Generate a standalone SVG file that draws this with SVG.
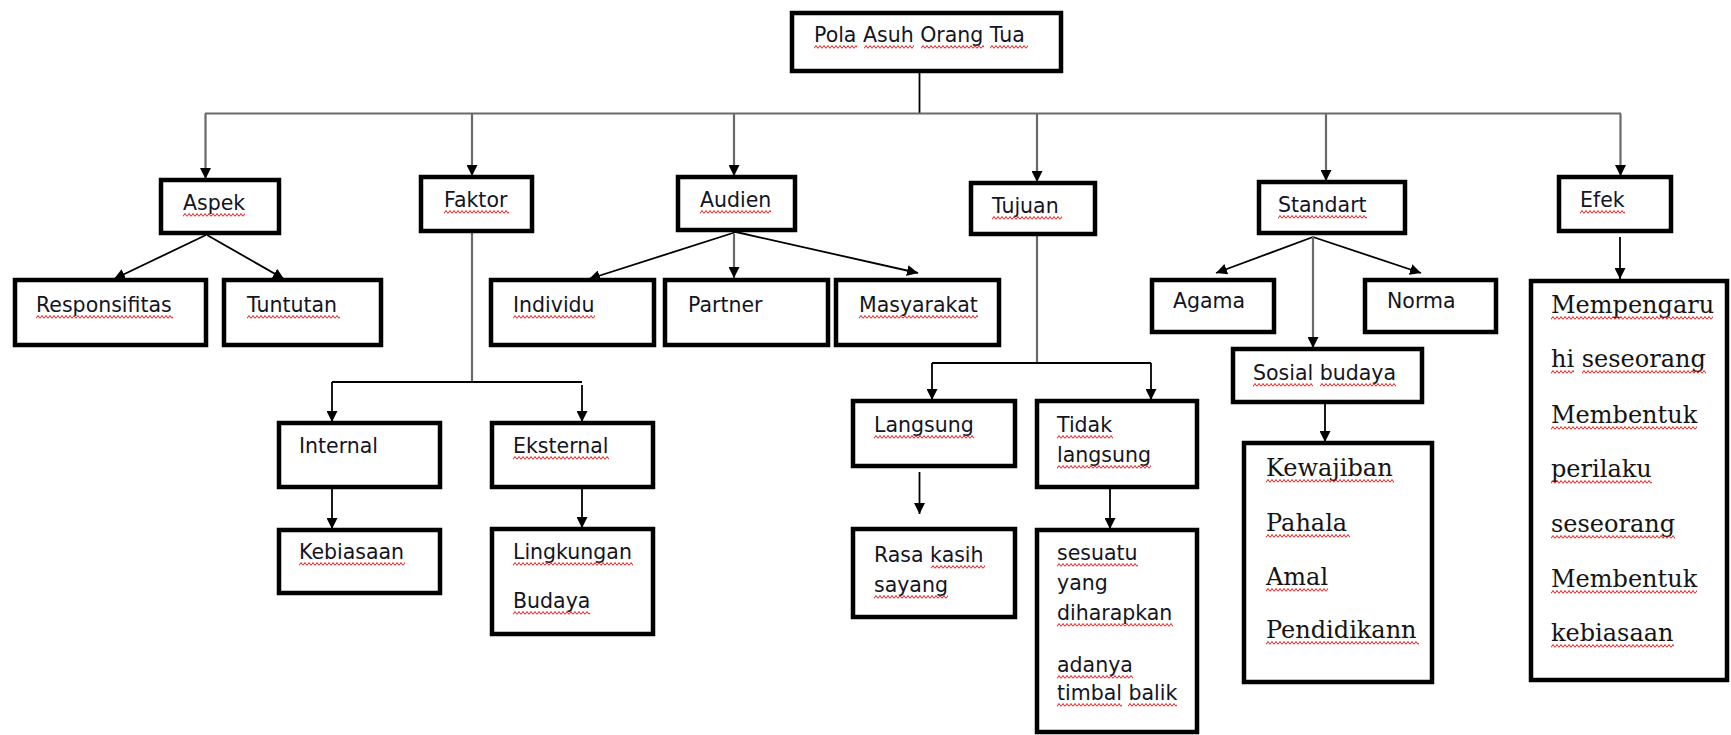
<svg xmlns="http://www.w3.org/2000/svg" width="1731" height="735" viewBox="0 0 1731 735">
<style>
.box{fill:#fff;stroke:#000;stroke-width:4.5}
.t{font-family:"DejaVu Sans",sans-serif;font-size:20.5px;fill:#141422}
.s{font-family:"DejaVu Serif",serif;font-size:24px;fill:#141414}
.c{fill:none;stroke:#000;stroke-width:1.8}
.g{fill:none;stroke:#6a6a6a;stroke-width:2.2}
.a{marker-end:url(#arr)}
.sq{fill:url(#zig)}
</style>
<defs>
<marker id="arr" markerUnits="userSpaceOnUse" markerWidth="12" markerHeight="11" refX="11" refY="5.5" orient="auto">
<path d="M0,0 L11,5.5 L0,11 z" fill="#000"/>
</marker>
<pattern id="zig" patternUnits="userSpaceOnUse" width="4" height="4">
<path d="M0,3.5 L2,0.5 L4,3.5" fill="none" stroke="#e21b1b" stroke-width="1"/>
</pattern>
</defs>
<rect width="1731" height="735" fill="#fff"/>

<g id="connectors">
<line class="c" x1="919.5" y1="71" x2="919.5" y2="114"/>
<line class="g" x1="205" y1="113.5" x2="1621" y2="113.5"/>
<path class="g a" d="M205.5,113.5 V179"/>
<path class="g a" d="M472,113.5 V176"/>
<path class="g a" d="M734,113.5 V176"/>
<path class="g a" d="M1037,113.5 V182"/>
<path class="g a" d="M1326,113.5 V181"/>
<path class="g a" d="M1620.5,113.5 V176"/>
<path class="c a" d="M206,235 L114,279"/>
<path class="c a" d="M207,235 L284,279"/>
<path class="g" d="M472,233 V382"/>
<path class="c" d="M332,382 H582"/>
<path class="c a" d="M332,382 V422"/>
<path class="c a" d="M582,385 V422"/>
<path class="c a" d="M332,489 V529"/>
<path class="c a" d="M582,489 V528"/>
<path class="c a" d="M736,232 L589,279"/>
<path class="g a" d="M734,234 V278"/>
<path class="c a" d="M736,232 L918,273"/>
<path class="g" d="M1037,236 V363"/>
<path class="c" d="M932,363 H1151"/>
<path class="c a" d="M932,363 V400"/>
<path class="c a" d="M1151,363 V400"/>
<path class="c a" d="M919.5,472 V514"/>
<path class="c a" d="M1110,489 V529"/>
<path class="c a" d="M1313,237 L1216,273"/>
<path class="c a" d="M1313,237 L1421,273"/>
<path class="g a" d="M1313,237 V348"/>
<path class="c a" d="M1325,404 V442"/>
<path class="c a" d="M1620,237 V279"/>
</g>

<g id="root">
<rect class="box" x="792" y="13" width="269" height="58"/>
<text class="t" x="814" y="42">Pola Asuh Orang Tua</text>
<rect class="sq" transform="translate(814,45)" width="43" height="4"/>
<rect class="sq" transform="translate(864,45)" width="50" height="4"/>
<rect class="sq" transform="translate(921,45)" width="63" height="4"/>
<rect class="sq" transform="translate(990,45)" width="38" height="4"/>
</g>

<g id="aspek">
<rect class="box" x="161" y="180" width="118" height="53"/>
<text class="t" x="183" y="210">Aspek</text>
<rect class="sq" transform="translate(183,213)" width="62" height="4"/>
</g>
<g id="faktor">
<rect class="box" x="421" y="177" width="111" height="54"/>
<text class="t" x="444" y="207">Faktor</text>
<rect class="sq" transform="translate(444,210)" width="65" height="4"/>
</g>
<g id="audien">
<rect class="box" x="678" y="177" width="117" height="53"/>
<text class="t" x="700" y="207">Audien</text>
<rect class="sq" transform="translate(700,210)" width="71" height="4"/>
</g>
<g id="tujuan">
<rect class="box" x="971" y="183" width="124" height="51"/>
<text class="t" x="992" y="213">Tujuan</text>
<rect class="sq" transform="translate(992,216)" width="70" height="4"/>
</g>
<g id="standart">
<rect class="box" x="1259" y="182" width="146" height="51"/>
<text class="t" x="1278" y="212">Standart</text>
<rect class="sq" transform="translate(1278,215)" width="89" height="4"/>
</g>
<g id="efek">
<rect class="box" x="1559" y="177" width="112" height="54"/>
<text class="t" x="1580" y="207">Efek</text>
<rect class="sq" transform="translate(1580,210)" width="45" height="4"/>
</g>

<g id="responsifitas">
<rect class="box" x="15" y="280" width="191" height="65"/>
<text class="t" x="36" y="312">Responsifitas</text>
<rect class="sq" transform="translate(36,315)" width="137" height="4"/>
</g>
<g id="tuntutan">
<rect class="box" x="224" y="280" width="157" height="65"/>
<text class="t" x="247" y="312">Tuntutan</text>
<rect class="sq" transform="translate(247,315)" width="93" height="4"/>
</g>
<g id="individu">
<rect class="box" x="491" y="280" width="163" height="65"/>
<text class="t" x="513" y="312">Individu</text>
<rect class="sq" transform="translate(513,315)" width="82" height="4"/>
</g>
<g id="partner">
<rect class="box" x="665" y="280" width="163" height="65"/>
<text class="t" x="688" y="312">Partner</text>
</g>
<g id="masyarakat">
<rect class="box" x="836" y="280" width="163" height="65"/>
<text class="t" x="859" y="312">Masyarakat</text>
<rect class="sq" transform="translate(859,315)" width="119" height="4"/>
</g>
<g id="agama">
<rect class="box" x="1152" y="280" width="122" height="52"/>
<text class="t" x="1173" y="308">Agama</text>
</g>
<g id="norma">
<rect class="box" x="1365" y="280" width="131" height="52"/>
<text class="t" x="1387" y="308">Norma</text>
</g>
<g id="sosial-budaya">
<rect class="box" x="1233" y="349" width="189" height="53"/>
<text class="t" x="1253" y="380">Sosial budaya</text>
<rect class="sq" transform="translate(1253,383)" width="60" height="4"/>
<rect class="sq" transform="translate(1320,383)" width="76" height="4"/>
</g>

<g id="internal">
<rect class="box" x="279" y="423" width="161" height="64"/>
<text class="t" x="299" y="453">Internal</text>
</g>
<g id="eksternal">
<rect class="box" x="492" y="423" width="161" height="64"/>
<text class="t" x="513" y="453">Eksternal</text>
<rect class="sq" transform="translate(513,456)" width="96" height="4"/>
</g>
<g id="kebiasaan">
<rect class="box" x="279" y="530" width="161" height="63"/>
<text class="t" x="299" y="559">Kebiasaan</text>
<rect class="sq" transform="translate(299,562)" width="106" height="4"/>
</g>
<g id="lingkungan">
<rect class="box" x="492" y="529" width="161" height="105"/>
<text class="t" x="513" y="559">Lingkungan</text>
<rect class="sq" transform="translate(513,562)" width="120" height="4"/>
<text class="t" x="513" y="608">Budaya</text>
<rect class="sq" transform="translate(513,611)" width="77" height="4"/>
</g>

<g id="langsung">
<rect class="box" x="853" y="401" width="162" height="65"/>
<text class="t" x="874" y="432">Langsung</text>
<rect class="sq" transform="translate(874,435)" width="100" height="4"/>
</g>
<g id="tidak-langsung">
<rect class="box" x="1037" y="401" width="160" height="86"/>
<text class="t" x="1057" y="432">Tidak</text>
<rect class="sq" transform="translate(1057,435)" width="56" height="4"/>
<text class="t" x="1057" y="462">langsung</text>
<rect class="sq" transform="translate(1057,465)" width="94" height="4"/>
</g>
<g id="rasa-kasih-sayang">
<rect class="box" x="853" y="529" width="162" height="88"/>
<text class="t" x="874" y="562">Rasa kasih</text>
<rect class="sq" transform="translate(931,565)" width="54" height="4"/>
<text class="t" x="874" y="592">sayang</text>
<rect class="sq" transform="translate(874,595)" width="74" height="4"/>
</g>
<g id="sesuatu">
<rect class="box" x="1037" y="530" width="160" height="202"/>
<text class="t" x="1057" y="560">sesuatu</text>
<rect class="sq" transform="translate(1057,563)" width="81" height="4"/>
<text class="t" x="1057" y="590">yang</text>
<text class="t" x="1057" y="620">diharapkan</text>
<rect class="sq" transform="translate(1057,623)" width="116" height="4"/>
<text class="t" x="1057" y="672">adanya</text>
<rect class="sq" transform="translate(1057,675)" width="76" height="4"/>
<text class="t" x="1057" y="700">timbal balik</text>
<rect class="sq" transform="translate(1057,703)" width="65" height="4"/>
<rect class="sq" transform="translate(1128,703)" width="49" height="4"/>
</g>

<g id="kewajiban">
<rect class="box" x="1244" y="443" width="188" height="239"/>
<text class="s" x="1266" y="476">Kewajiban</text>
<rect class="sq" transform="translate(1266,479)" width="128" height="4"/>
<text class="s" x="1266" y="531">Pahala</text>
<rect class="sq" transform="translate(1266,534)" width="84" height="4"/>
<text class="s" x="1266" y="585">Amal</text>
<rect class="sq" transform="translate(1266,588)" width="62" height="4"/>
<text class="s" x="1266" y="638">Pendidikann</text>
<rect class="sq" transform="translate(1266,641)" width="153" height="4"/>
</g>

<g id="efek-detail">
<rect class="box" x="1531" y="281" width="196" height="399"/>
<text class="s" x="1551" y="313">Mempengaru</text>
<rect class="sq" transform="translate(1551,316)" width="162" height="4"/>
<text class="s" x="1551" y="367">hi seseorang</text>
<rect class="sq" transform="translate(1551,370)" width="23" height="4"/>
<rect class="sq" transform="translate(1582,370)" width="124" height="4"/>
<text class="s" x="1551" y="423">Membentuk</text>
<rect class="sq" transform="translate(1551,426)" width="146" height="4"/>
<text class="s" x="1551" y="477">perilaku</text>
<rect class="sq" transform="translate(1551,480)" width="101" height="4"/>
<text class="s" x="1551" y="532">seseorang</text>
<rect class="sq" transform="translate(1551,535)" width="124" height="4"/>
<text class="s" x="1551" y="587">Membentuk</text>
<rect class="sq" transform="translate(1551,590)" width="146" height="4"/>
<text class="s" x="1551" y="641">kebiasaan</text>
<rect class="sq" transform="translate(1551,644)" width="123" height="4"/>
</g>
</svg>
